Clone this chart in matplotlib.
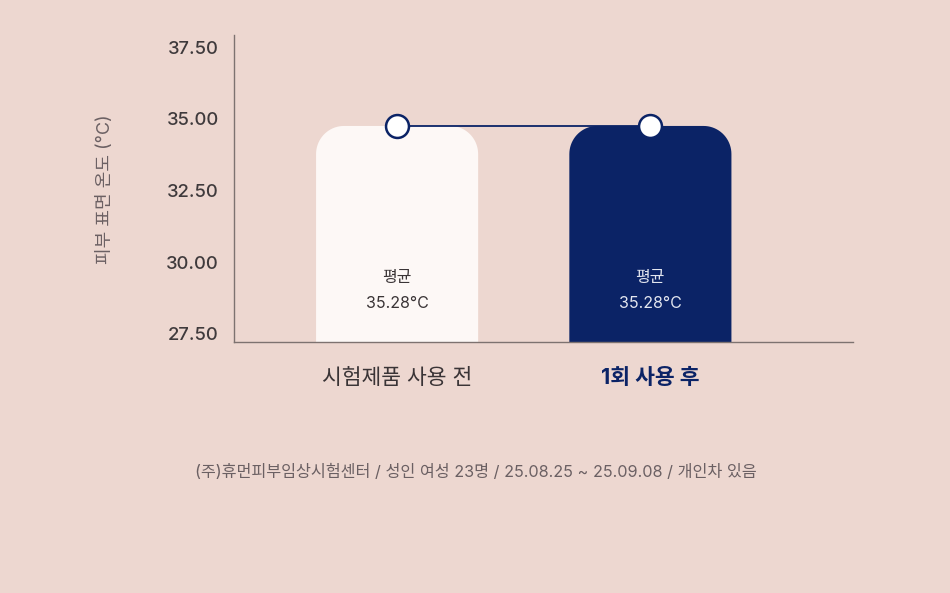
import numpy as np
import matplotlib
matplotlib.use("Agg")
import matplotlib.pyplot as plt
from matplotlib.patches import Polygon

plt.rcParams['font.family'] = ['Inter', 'Noto Sans CJK KR', 'DejaVu Sans']

# ── 데이터 ─────────────────────────────────────────────
categories = ["시험제품 사용 전", "1회 사용 후"]
bar_tops = [34.75, 34.75]            # 그림에서 읽은 막대 높이 (축 기준)
mean_text = ["35.28°C", "35.28°C"]   # 막대 안의 표기값
y_ticks = [27.5, 30.0, 32.5, 35.0, 37.5]
y_tick_labels = ["27.50", "30.00", "32.50", "35.00", "37.50"]
footnote = "(주)휴먼피부임상시험센터 / 성인 여성 23명 / 25.08.25 ~ 25.09.08 / 개인차 있음"

BG = "#EDD7D0"
NAVY = "#0B2366"
WHITE_BAR = "#FDF8F6"
AXIS = "#7D7270"

fig = plt.figure(figsize=(9.5, 5.93), dpi=100, facecolor=BG)
ax = fig.add_axes([234 / 950, 1 - 342 / 593, 619 / 950, 307 / 593])
ax.set_facecolor(BG)

ymin, ymax = 27.22, 37.92
ax.set_xlim(-0.644, 1.80)
ax.set_ylim(ymin, ymax)

bar_w = 0.64
rx, ry = 0.11, 0.98   # 모서리 반경 (데이터 단위, 화면상 약 28px)


def rounded_bar(ax, xc, top, bottom, color):
    x0, x1 = xc - bar_w / 2, xc + bar_w / 2
    t = np.linspace(0, np.pi / 2, 20)
    right = np.column_stack([x1 - rx + rx * np.cos(t), top - ry + ry * np.sin(t)])
    left = np.column_stack([x0 + rx - rx * np.sin(t), top - ry + ry * np.cos(t)])
    pts = np.vstack([[x1, bottom], right, left, [x0, bottom]])
    ax.add_patch(Polygon(pts, closed=True, facecolor=color, edgecolor="none", zorder=2))


xs = np.arange(len(categories))
colors = [WHITE_BAR, NAVY]
for x, top, c in zip(xs, bar_tops, colors):
    rounded_bar(ax, x, top, ymin, c)

# 연결선 + 원형 마커
ax.plot(xs, bar_tops, color=NAVY, lw=1.3, zorder=3)
ax.plot(xs, bar_tops, "o", ms=16.5, mfc="white", mec=NAVY, mew=1.8, zorder=4)

# 막대 안 텍스트
text_colors = ["#3A3436", "#E3E6EF"]
for x, txt, tc in zip(xs, mean_text, text_colors):
    ax.text(x, 29.47, "평균", ha="center", va="center", fontsize=11.5, color=tc, zorder=5)
    ax.text(x, 28.57, txt, ha="center", va="center", fontsize=11.5, color=tc, zorder=5)

# 축
for s in ["top", "right"]:
    ax.spines[s].set_visible(False)
for s in ["left", "bottom"]:
    ax.spines[s].set_color(AXIS)
    ax.spines[s].set_linewidth(1.0)

ax.set_yticks(y_ticks)
ax.set_yticklabels(y_tick_labels, fontsize=13.3, color="#3F3A3C", fontweight="medium")
ax.tick_params(axis="y", length=0, pad=11)
ax.set_xticks(xs)
ax.set_xticklabels(categories, fontsize=15.5)
ax.tick_params(axis="x", length=0, pad=19)
lbls = ax.get_xticklabels()
lbls[0].set_color("#3A3436")
lbls[1].set_color(NAVY)
lbls[1].set_fontweight("bold")

fig.text(106 / 950, 1 - 189 / 593, "피부 표면 온도 (°C)", rotation=90,
         ha="center", va="center", fontsize=13, color="#6B6063")

fig.text(476 / 950, 1 - 472 / 593, footnote, ha="center", va="center",
         fontsize=11.7, color="#6B6063")

fig.savefig("out.png", dpi=100, facecolor=BG)
